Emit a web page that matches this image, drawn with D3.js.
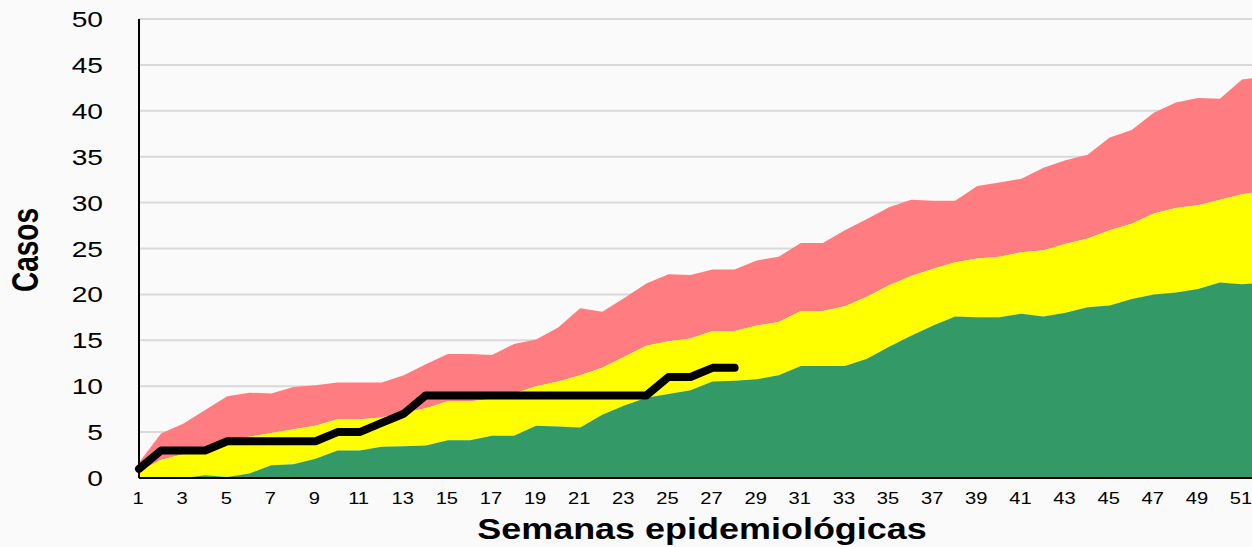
<!DOCTYPE html>
<html>
<head>
  <meta charset="utf-8">
  <title>Canal endémico</title>
  <script src="https://d3js.org/d3.v7.min.js"></script>
  <style>
    body { margin: 0; background: #fafafa; }
    svg { display: block; font-family: "Liberation Sans", Arial, sans-serif; }
  </style>
</head>
<body>
  <svg width="1252" height="547"></svg>
  <script>
  // weeks 1..52
  var weeks = d3.range(1, 53);

  // upper limit of each zone (cumulative)
  var exito = [0, 0, 0, 0.3, 0.1, 0.5, 1.4, 1.5, 2.1, 3.0, 3.0, 3.4, 3.45, 3.55, 4.1, 4.1, 4.6, 4.6, 5.7, 5.6,
    5.5, 6.9, 7.9, 8.75, 9.15, 9.55, 10.5, 10.6, 10.75, 11.2, 12.2, 12.2, 12.2, 13.0, 14.3, 15.5, 16.6, 17.6, 17.5, 17.5,
    17.9, 17.6, 18.0, 18.6, 18.8, 19.5, 20.0, 20.2, 20.6, 21.3, 21.1, 21.3];
  var seguridad = [0.7, 2.0, 2.6, 2.9, 4.1, 4.5, 4.9, 5.3, 5.7, 6.4, 6.4, 6.6, 7.1, 7.6, 8.35, 8.35, 8.6, 9.2, 10.0, 10.5,
    11.2, 12.0, 13.2, 14.4, 14.9, 15.2, 16.0, 16.0, 16.6, 17.0, 18.2, 18.2, 18.7, 19.75, 21.0, 22.0, 22.8, 23.5, 23.9, 24.1,
    24.6, 24.8, 25.5, 26.1, 27.0, 27.7, 28.8, 29.4, 29.7, 30.3, 30.9, 31.3];
  var alerta = [1.7, 4.85, 5.9, 7.4, 8.9, 9.3, 9.2, 9.9, 10.1, 10.4, 10.4, 10.4, 11.2, 12.4, 13.5, 13.5, 13.4, 14.6, 15.1, 16.4,
    18.5, 18.1, 19.6, 21.2, 22.2, 22.1, 22.7, 22.7, 23.7, 24.1, 25.6, 25.6, 27.0, 28.2, 29.5, 30.3, 30.2, 30.2, 31.8, 32.2,
    32.6, 33.8, 34.6, 35.2, 37.1, 37.9, 39.8, 40.9, 41.4, 41.3, 43.4, 43.7];
  // observed cases (weeks 1..28)
  var casos = [1, 3, 3, 3, 4, 4, 4, 4, 4, 5, 5, 6, 7, 9, 9, 9, 9, 9, 9, 9, 9, 9, 9, 9, 11, 11, 12, 12];

  var yTicks = d3.range(0, 51, 5);
  var xTicks = d3.range(1, 52, 2);

  var svg = d3.select("svg");
  var x = d3.scaleLinear().domain([1, 52]).range([139, 139 + 51 * 22.06]);
  var y = d3.scaleLinear().domain([0, 50]).range([478, 19]);

  // the picture is stretched sideways, so text is too
  function label(txt, px, py, size, weight, anchor, extra) {
    return svg.append("text")
      .attr("transform", "translate(" + px + "," + py + ") scale(" + (extra && extra.sx || 1.28) + ",1)" + (extra && extra.rot ? " rotate(-90)" : ""))
      .attr("text-anchor", anchor)
      .style("font-size", size + "px")
      .style("font-weight", weight)
      .style("fill", "#000")
      .text(txt);
  }

  // grid
  svg.selectAll(".grid").data(yTicks.filter(function(d){ return d > 0; }))
    .enter().append("line")
    .attr("x1", x(1)).attr("x2", 1252)
    .attr("y1", function(d){ return y(d); }).attr("y2", function(d){ return y(d); })
    .style("stroke", "#d9d9d9").style("stroke-width", 2);

  // zones
  function band(lo, hi) {
    return d3.area()
      .x(function(d, i){ return x(weeks[i]); })
      .y0(function(d, i){ return y(lo ? lo[i] : 0); })
      .y1(function(d, i){ return y(hi[i]); });
  }
  svg.append("path").datum(weeks).attr("d", band(seguridad, alerta)).style("fill", "#ff7c80");
  svg.append("path").datum(weeks).attr("d", band(exito, seguridad)).style("fill", "#ffff00");
  svg.append("path").datum(weeks).attr("d", band(null, exito)).style("fill", "#339966");

  // axes lines
  svg.append("line").attr("x1", x(1)).attr("x2", 1252).attr("y1", y(0)).attr("y2", y(0))
    .style("stroke", "#000").style("stroke-width", 2);
  svg.append("line").attr("x1", x(1)).attr("x2", x(1)).attr("y1", y(0)).attr("y2", y(50))
    .style("stroke", "#000").style("stroke-width", 2);

  // cases line
  svg.append("path").datum(casos)
    .attr("d", d3.line().x(function(d, i){ return x(i + 1); }).y(function(d){ return y(d); }))
    .style("fill", "none").style("stroke", "#000").style("stroke-width", 8)
    .style("stroke-linecap", "round").style("stroke-linejoin", "round");

  // tick labels
  yTicks.forEach(function(t){ label(t, 103, y(t) + 8, 22, "normal", "end"); });
  xTicks.forEach(function(t){ label(t, x(t) - 1, 504, 16, "normal", "middle", {sx: 1.26}); });

  // titles
  label("Casos", 38, 250, 28, "bold", "middle", {sx: 1.32, rot: true});
  label("Semanas epidemiológicas", 702, 539, 29, "bold", "middle", {sx: 1.24});
  </script>
</body>
</html>
